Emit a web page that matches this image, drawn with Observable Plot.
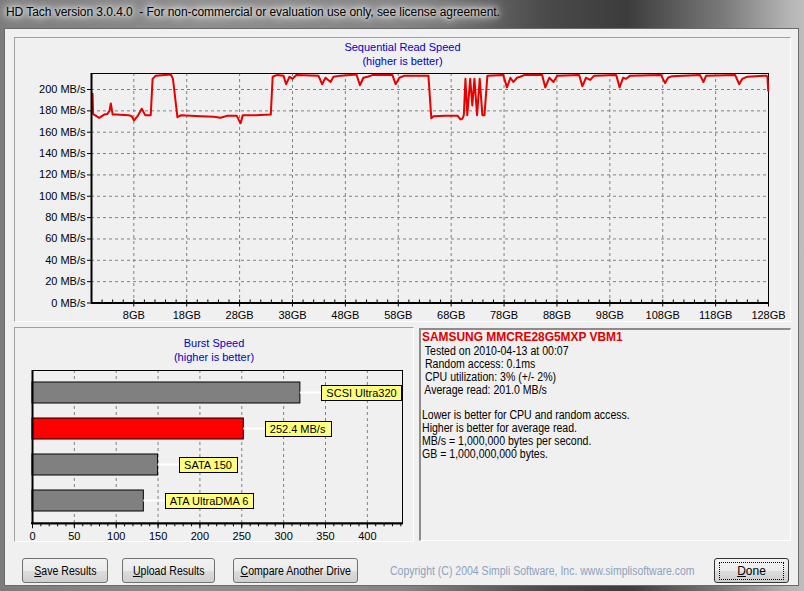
<!DOCTYPE html>
<html>
<head>
<meta charset="utf-8">
<script src="https://cdn.jsdelivr.net/npm/d3@7"></script>
<script src="https://cdn.jsdelivr.net/npm/@observablehq/plot@0.6"></script>
<style>
html,body{margin:0;padding:0;width:804px;height:591px;overflow:hidden;}
body{position:relative;font-family:"Liberation Sans",Arial,sans-serif;
  background:linear-gradient(90deg,#7c7c7c 0%,#8e8e8e 25%,#858585 50%,#4a4a4a 68%,#3c3c3c 78%,#7a7a7a 90%,#b4b4b4 98%,#bdbdbd 100%);}
.abs{position:absolute;}
#titletext{left:6px;top:5px;font-size:12px;color:#000;white-space:pre;letter-spacing:-0.05px;
  text-shadow:0 0 4px #fff,0 0 8px #fff,0 0 12px rgba(255,255,255,.9),0 0 16px rgba(255,255,255,.7);}
#client{left:4px;top:28px;width:795px;height:558px;background:#f0f0f0;border:1px solid #6a6a6a;box-sizing:border-box;}
.sunken{box-sizing:border-box;border-top:1px solid #a0a0a0;border-left:1px solid #a0a0a0;border-bottom:1px solid #fff;border-right:1px solid #fff;}
#mainpanel{left:14px;top:37px;width:777px;height:285px;}
#burstpanel{left:14px;top:327px;width:400px;height:215px;}
#infopanel{left:419px;top:328px;width:372px;height:213px;box-sizing:border-box;border-top:2px solid #8c8c8c;border-left:2px solid #8c8c8c;border-bottom:1px solid #fff;border-right:1px solid #fff;}
.ctitle{color:#0000c8;font-size:11px;text-align:center;line-height:14px;}
#readtitle{left:14px;top:40px;width:777px;}
#bursttitle{left:14px;top:336px;width:400px;}
#readwrap{left:15px;top:38px;}
#burstwrap{left:15px;top:362px;}
#info{left:422px;top:331px;font-size:12px;line-height:12.9px;color:#000;white-space:pre;transform:scaleX(0.88);transform-origin:0 0;}
#info .drive{font-weight:bold;color:#e00000;font-size:12px;transform:scaleX(1.13);transform-origin:0 0;margin-bottom:1px;}
.btn{box-sizing:border-box;height:25px;top:558px;border:1px solid #707070;border-radius:3px;
  background:linear-gradient(#f2f2f2 0%,#ebebeb 50%,#dddddd 51%,#cfcfcf 100%);
  font-size:12px;color:#000;white-space:nowrap;
  display:flex;align-items:center;justify-content:center;}
.btn span{display:inline-block;transform:scaleX(0.88);}
#copyright{left:390px;top:564px;font-size:12px;color:#8ea1bd;white-space:pre;transform:scaleX(0.875);transform-origin:0 0;}
#done{border:1px solid #333;}
#done span{outline:1px dotted #000;outline-offset:1px;padding:0 16px;transform:none;}
</style>
</head>
<body>
<div class="abs" id="titletext">HD Tach version 3.0.4.0  - For non-commercial or evaluation use only, see license agreement.</div>
<div class="abs" id="client"></div>
<div class="abs sunken" id="mainpanel"></div>
<div class="abs sunken" id="burstpanel"></div>
<div class="abs" id="infopanel"></div>
<div class="abs ctitle" id="readtitle">Sequential Read Speed<br>(higher is better)</div>
<div class="abs ctitle" id="bursttitle">Burst Speed<br>(higher is better)</div>
<div class="abs" id="readwrap"></div>
<div class="abs" id="burstwrap"></div>
<div class="abs" id="info"></div>
<div class="abs btn" style="left:22px;width:86px;"><span><u>S</u>ave Results</span></div>
<div class="abs btn" style="left:122px;width:93px;"><span><u>U</u>pload Results</span></div>
<div class="abs btn" style="left:233px;width:125px;"><span><u>C</u>ompare Another Drive</span></div>
<div class="abs" id="copyright">Copyright (C) 2004 Simpli Software, Inc. www.simplisoftware.com</div>
<div class="abs btn" id="done" style="left:714px;width:75px;"><span><u>D</u>one</span></div>
<script>
// ---------- DATA ----------
// Sequential read: [position in GB, MB/s]
const readSamples = [
  [0.2,196],[0.3,177],[0.8,175.5],[1.45,173.5],[2.4,176.5],[3.0,177],[3.4,180],[3.65,187],[4.0,176.5],[4.6,176.5],
  [7.05,176],[7.6,175],[8.05,171],[8.7,175],[9.5,182],[10.15,176],[11.2,176],[11.55,210],[12.15,213],[15.0,214],
  [15.4,210],[16.25,174],[16.9,176],[18.75,175.5],[20.65,175],[23.1,174.5],[24.4,173.5],[25.75,175.5],[27.45,175.5],[27.8,172],
  [28.2,168.5],[28.6,176],[31.05,176],[33.9,176.5],[34.25,212],[35.0,213.5],[36.3,213],[36.8,205],[37.45,212],[38.0,210],
  [38.75,213.5],[42.9,213],[43.6,205],[44.25,211],[45.2,207],[45.75,212],[47.1,213],[50.1,214],[50.75,204],[51.4,211],
  [52.2,212],[53.1,213.5],[56.9,213.5],[57.5,205],[58.2,211],[59.2,213],[63.7,213],[64.25,173],[64.65,175],[66.9,175.5],
  [69.2,175.5],[69.75,172],[70.1,172.5],[70.4,176],[70.7,210],[71.05,176],[71.6,210],[72.0,185],[72.4,210],[72.9,176],
  [73.4,210],[73.9,176],[74.3,176],[74.85,213],[77.85,213.5],[78.55,202],[79.2,211],[79.75,207],[80.45,211],[81.05,212],
  [81.8,213.5],[85.2,213.5],[85.8,202],[86.55,211],[87.35,207],[88.05,213],[92.2,213.5],[92.8,203],[93.5,211],[94.3,209],
  [95.05,213],[99.2,213.5],[99.85,202],[100.5,211],[101.1,210],[101.85,213],[107.7,213.5],[108.45,206],[109.0,211],[109.75,212.5],
  [115.05,213.5],[115.7,207],[116.2,213],[121.7,213.5],[122.45,205],[123.05,210],[124.0,212],[127.5,213],[127.8,212],[127.95,199]
];
const gbTicks = [8,18,28,38,48,58,68,78,88,98,108,118,128];
const gbMinorTicks = d3.range(0, 129, 2);
const speedTicks = [0,20,40,60,80,100,120,140,160,180,200];

// Burst speed
const burstNames = ["SCSI Ultra320", "SAMSUNG MMCRE28G5MXP VBM1", "SATA 150", "ATA UltraDMA 6"];
const burstValues = [320, 252.4, 150, 133];
const burstLabels = ["SCSI Ultra320", "252.4 MB/s", "SATA 150", "ATA UltraDMA 6"];
const burstTicks = [0,50,100,150,200,250,300,350,400];
const burstMinorTicks = d3.range(0, 441, 10);

// Info panel text
const driveName = "SAMSUNG MMCRE28G5MXP VBM1";
const infoLines = [
  " Tested on 2010-04-13 at 00:07",
  " Random access: 0.1ms",
  " CPU utilization: 3% (+/- 2%)",
  " Average read: 201.0 MB/s",
  "",
  "Lower is better for CPU and random access.",
  "Higher is better for average read.",
  "MB/s = 1,000,000 bytes per second.",
  "GB = 1,000,000,000 bytes."
];

// ---------- CHARTS ----------
const font = "'Liberation Sans', Arial, sans-serif";
const grid = {stroke: "#808080", strokeOpacity: 1, strokeDasharray: "3,3"};

const readPlot = Plot.plot({
  width: 775, height: 284,
  marginLeft: 76, marginRight: 22, marginTop: 35, marginBottom: 19.5,
  style: {background: "transparent", fontFamily: font, fontSize: "11px", color: "#000", overflow: "visible"},
  x: {domain: [0, 128], label: null},
  y: {domain: [0, 215], label: null},
  marks: [
    Plot.gridY(speedTicks.filter(d => d > 0), grid),
    Plot.gridX(gbTicks, grid),
    Plot.frame({stroke: "#000"}),
    Plot.line(readSamples, {x: d => d[0], y: d => d[1], stroke: "#e60000", strokeWidth: 2}),
    Plot.ruleX([0], {stroke: "#000", strokeWidth: 2}),
    Plot.ruleY([0], {stroke: "#000", strokeWidth: 2}),
    Plot.axisY(speedTicks, {tickFormat: d => `${d} MB/s`, tickSize: 4, tickPadding: 2, label: null}),
    Plot.axisX(gbTicks, {tickFormat: d => `${d}GB`, tickSize: 4, tickPadding: 4, label: null}),
    Plot.axisX(gbMinorTicks, {tickFormat: () => "", tickSize: 3, dy: -3, label: null})
  ]
});
document.getElementById("readwrap").appendChild(readPlot);

const burst = burstNames.map((name, i) => ({name, value: burstValues[i], label: burstLabels[i], mine: name === driveName}));

const burstPlot = Plot.plot({
  width: 397, height: 184,
  marginLeft: 17, marginRight: 10, marginTop: 8, marginBottom: 22.7,
  style: {background: "transparent", fontFamily: font, fontSize: "11px", color: "#000", overflow: "visible"},
  x: {domain: [0, 442], label: null},
  y: {domain: burstNames, paddingInner: 0.43, paddingOuter: 0.29, axis: null, label: null},
  marks: [
    Plot.gridX(burstTicks.filter(d => d > 0), grid),
    Plot.frame({stroke: "#000"}),
    Plot.barX(burst, {x: "value", y: "name", fill: d => d.mine ? "#ff0000" : "#808080", stroke: "#000", strokeWidth: 1}),
    Plot.text(burst, {x: "value", y: "name", text: "label", dx: 26, textAnchor: "start", fontSize: 11, fill: "#000"}),
    Plot.ruleX([0], {stroke: "#000", strokeWidth: 2}),
    (index, scales, values, dims) => {
      const y = dims.height - dims.marginBottom;
      return d3.create("svg:line")
        .attr("x1", dims.marginLeft - 1).attr("x2", dims.width - dims.marginRight)
        .attr("y1", y).attr("y2", y).attr("stroke", "#000").attr("stroke-width", 2).node();
    },
    Plot.axisX(burstTicks, {tickSize: 5, tickPadding: 3, label: null}),
    Plot.axisX(burstMinorTicks, {tickFormat: () => "", tickSize: 3, label: null})
  ]
});
document.getElementById("burstwrap").appendChild(burstPlot);

// yellow label boxes + white connectors
(function () {
  const NS = "http://www.w3.org/2000/svg";
  const sb = burstPlot.getBoundingClientRect();
  const textG = burstPlot.querySelector('g[aria-label="text"]');
  const barG = burstPlot.querySelector('g[aria-label="bar"]');
  if (!textG || !barG) return;
  const bars = barG.querySelectorAll("rect");
  const texts = textG.querySelectorAll("text");
  const deco = document.createElementNS(NS, "g");
  textG.parentNode.insertBefore(deco, textG);
  texts.forEach((t, i) => {
    const r = t.getBoundingClientRect();
    const br = bars[i].getBoundingClientRect();
    const cy = br.top - sb.top + br.height / 2;
    const bx = r.left - sb.left - 5;
    const bw = r.width + 10;
    const line = document.createElementNS(NS, "line");
    line.setAttribute("x1", br.right - sb.left); line.setAttribute("x2", bx);
    line.setAttribute("y1", cy); line.setAttribute("y2", cy);
    line.setAttribute("stroke", "#fff"); line.setAttribute("stroke-width", 2);
    deco.appendChild(line);
    const rect = document.createElementNS(NS, "rect");
    rect.setAttribute("x", Math.round(bx) + 0.5); rect.setAttribute("y", Math.round(cy - 8) + 0.5);
    rect.setAttribute("width", Math.round(bw)); rect.setAttribute("height", 15);
    rect.setAttribute("fill", "#ffff80"); rect.setAttribute("stroke", "#000");
    deco.appendChild(rect);
  });
})();

// info panel
const info = document.getElementById("info");
const head = document.createElement("div");
head.className = "drive";
head.textContent = driveName;
info.appendChild(head);
infoLines.forEach(s => {
  const d = document.createElement("div");
  d.textContent = s === "" ? " " : s;
  info.appendChild(d);
});
</script>
</body>
</html>
